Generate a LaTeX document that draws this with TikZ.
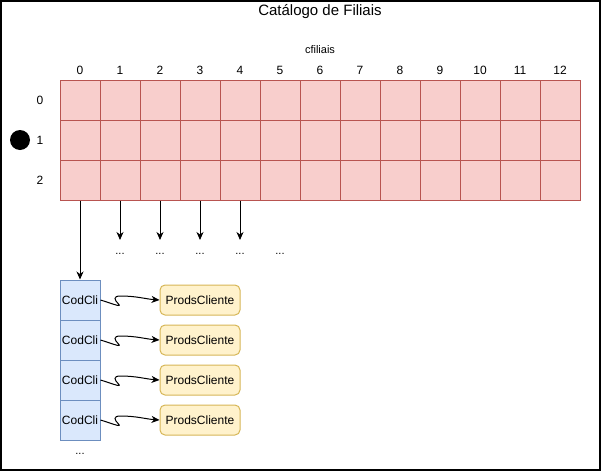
\documentclass[tikz,border=0pt]{standalone}
\usepackage{fontspec}
\setmainfont{Liberation Sans}
\usetikzlibrary{arrows.meta,positioning,calc}
\definecolor{cellfill}{HTML}{F8CECC}
\definecolor{celldraw}{HTML}{B85450}
\definecolor{codfill}{HTML}{DAE8FC}
\definecolor{coddraw}{HTML}{6C8EBF}
\definecolor{prodfill}{HTML}{FFF2CC}
\definecolor{proddraw}{HTML}{D6B656}
\tikzset{
    %Define standard arrow tip
    >={Stealth[length=8pt,width=7pt,inset=2.5pt]},
    %Define style for the table cells
    cell/.style={
           rectangle,
           draw=celldraw, line width=1pt,
           fill=cellfill,
           minimum width=40pt,
           minimum height=40pt,
           inner sep=0pt},
    codcli/.style={
           rectangle,
           draw=coddraw, line width=1pt,
           fill=codfill,
           minimum width=40pt,
           minimum height=40pt,
           inner sep=0pt,
           font=\fontsize{12}{14}\selectfont},
    prods/.style={
           rectangle,
           rounded corners=5pt,
           draw=proddraw, line width=1pt,
           fill=prodfill,
           minimum width=80pt,
           minimum height=30pt,
           inner sep=0pt,
           font=\fontsize{12}{14}\selectfont},
    lbl/.style={font=\fontsize{12}{14}\selectfont, inner sep=0pt},
    dots/.style={anchor=north, inner sep=0pt, text height=14pt,
           font=\fontsize{11}{14}\selectfont},
    % Define arrow style
    pil/.style={
           ->,
           line width=1pt},
}

\begin{document}
\begin{tikzpicture}[x=1pt,y=-1pt]
\useasboundingbox (0,0) rectangle (601,471);
\draw[line width=2pt] (1,1) rectangle (600,470);

\node[font=\fontsize{15}{18}\selectfont] (title) at (320,12) {Catálogo de Filiais};
\node[lbl, font=\fontsize{11}{13}\selectfont] (name) at (320,50) {cfiliais};

% table
\foreach \c in {0,...,12}{
  \foreach \r in {0,1,2}
    \node[cell] (c-\r-\c) at (80+40*\c,100+40*\r) {};
  \node[lbl] (col-\c) at (80+40*\c,70) {\c};
}
\foreach \r in {0,1,2}
  \node[lbl] (row-\r) at (40,100+40*\r) {\r};
\node[circle, fill=black, minimum size=20pt, inner sep=0pt] (dot) at (20,140) {};

% lists
\foreach \i in {1,...,4}{
  \node[codcli] (cod\i) at (80,260+40*\i) {CodCli};
  \node[prods] (prod\i) at (200,260+40*\i) {ProdsCliente};
  \draw[pil] (cod\i.east) .. controls +(10,3) and +(4,4) .. ($(cod\i.east)+(18,4)$)
        .. controls +(-4,-4) and +(-8,0) .. ($(cod\i.east)+(20,-4)$)
        .. controls +(16,0) and +(-14,-1) .. (prod\i.west);
}
\node[dots, below=0pt of cod4] (dcod) {...};

\draw[pil] (c-2-0.south) -- (cod1.north);
\foreach \c in {1,...,5}
  \node[dots] (d\c) at (80+40*\c,240) {...};
\foreach \c in {1,...,4}
  \draw[pil] (c-2-\c.south) -- (d\c.north);
\end{tikzpicture}
\end{document}
